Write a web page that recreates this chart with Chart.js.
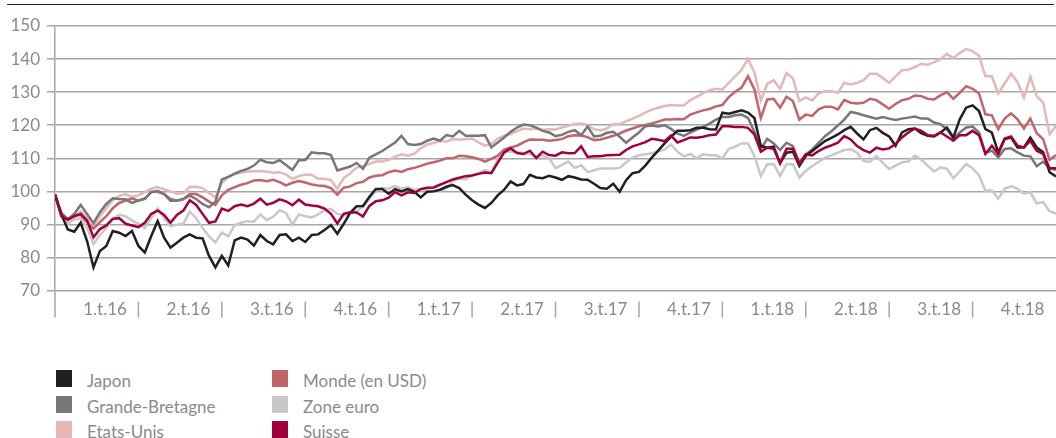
<!DOCTYPE html>
<html>
<head>
<meta charset="utf-8">
<script src="https://cdn.jsdelivr.net/npm/chart.js@4.4.1/dist/chart.umd.min.js"></script>
<style>
  html, body { margin: 0; padding: 0; background: #fff; }
  body { width: 1056px; height: 438px; position: relative; overflow: hidden; font-family: Lato, sans-serif; }
  #rule { position: absolute; left: 7px; top: 4px; width: 1047px; height: 0; border-top: 1px solid #222; }
  #wrap { position: absolute; left: 0; top: 0; width: 1056px; height: 330px; }
  .item { position: absolute; height: 17px; font-size: 17px; line-height: 17px; color: #8a8a8d; white-space: nowrap; }
  .swatch { position: absolute; left: 0; top: 0; width: 16px; height: 17px; }
  .name { position: absolute; left: 31px; top: 2px; }
</style>
</head>
<body>
<div id="rule"></div>
<div id="wrap"><canvas id="chart" width="1056" height="330"></canvas></div>
<div id="legend"></div>
<script>
// Weekly index values, start = 100
const quarterLabels = ['1.t.16', '2.t.16', '3.t.16', '4.t.16', '1.t.17', '2.t.17', '3.t.17', '4.t.17', '1.t.18', '2.t.18', '3.t.18', '4.t.18'];

const japon = [
  99, 93, 88.5, 87.8, 90.5, 85, 77, 82, 83.5, 88, 87.5, 86.5, 88,
  83.5, 81.5, 86.5, 91, 86, 83, 84.5, 86, 87, 86, 85.8, 80.5, 77,
  80.5, 77.6, 85.2, 86, 85.4, 83.6, 86.8, 85, 84, 86.8, 87, 85, 86,
  84.7, 86.8, 87, 88.3, 89.8, 87.2, 90.2, 93.5, 95.5, 95.6, 98.4, 100.7, 100.7,
  99.3, 100.7, 100, 100.7, 99.9, 98.2, 99.9, 100, 100.5, 101.4, 101.9, 101, 99,
  97.3, 96, 95, 96.5, 98.8, 100.5, 103, 101.8, 102.2, 105, 104.2, 104, 104.7,
  104.2, 103.5, 104.6, 104.2, 103.6, 103.5, 102.3, 101, 100.8, 102.3, 99.9, 103.4, 105.5,
  105.9, 107.8, 110.2, 112.3, 114.5, 116.5, 118.3, 118.3, 118.5, 119.2, 119.2, 118.8, 118.7,
  123.8, 123.5, 124, 124.5, 123.8, 122.2, 113.7, 113.2, 113.5, 108.5, 111.7, 112, 107.7,
  110.7, 112.2, 113.7, 115.2, 116.2, 117.2, 118.5, 119.5, 117.5, 115.7, 118.5, 119.2, 117.7,
  116.6, 113.8, 117.8, 118.8, 119, 117.6, 116.8, 116.6, 117.8, 119.3, 116.3, 121.8, 125.3,
  126, 124.3, 118.8, 117.8, 111.8, 115.8, 116.3, 113.3, 113.3, 116.3, 113.3, 111.8, 105.8,
  104.5
];

const grandeBretagne = [
  99, 93.5, 91.6, 93.2, 95.9, 93.2, 90.4, 93.7, 96.2, 97.9, 97.7, 97.6, 96.5,
  97.2, 97.9, 99.7, 100.2, 99.2, 97.2, 97.2, 97.7, 98.7, 97.7, 96.2, 95.2, 96.9,
  103.6, 104.4, 105.4, 106.2, 106.8, 107.8, 109.6, 108.8, 108.6, 109.4, 108, 106.5, 109.4,
  109.5, 111.8, 111.5, 111.5, 111, 106.3, 106.9, 107.5, 108.6, 106.8, 110.2, 111.2, 112.2,
  113.5, 114.8, 116.8, 114.3, 114, 114.3, 115.3, 116, 115.3, 117, 116.6, 118.3, 116.8,
  116.8, 116.8, 117, 113.3, 114.8, 116.3, 118, 119.3, 120.2, 120, 119.3, 118.3, 117.8,
  116.7, 117.1, 118, 118.5, 117, 119.6, 116.6, 116.8, 117.7, 118, 116.5, 114.7, 116.3,
  117.8, 119.7, 119.9, 119.6, 120, 118.9, 117.5, 116.8, 117.8, 118.7, 119.5, 120.5, 121.7,
  122.5, 122.5, 123, 123.2, 122.2, 118, 112.8, 115.9, 114.5, 112.5, 114.7, 113.7, 108.7,
  111.2, 112.7, 114.7, 116.7, 118.2, 119.9, 121.7, 124, 123.6, 123, 122.5, 122, 122.5,
  122, 121.6, 122, 122.3, 122.6, 122, 122, 120.8, 120.3, 118.8, 116, 117.8, 119.3,
  119.6, 117.8, 111.6, 112.3, 110.3, 112.8, 113, 111.8, 110.8, 110.6, 107.6, 109, 107,
  106.5
];

const etatsUnis = [
  99, 93, 91, 92.5, 94, 92.5, 89.8, 92.5, 95, 97.3, 98.6, 99.2, 98.3,
  98.8, 99.8, 100.8, 101.3, 100.6, 100, 99.3, 99.4, 101.3, 101.4, 101, 99.5, 98.2,
  102.5, 104.3, 105.2, 105.7, 106, 106.1, 106.1, 106, 105.6, 105.8, 105.1, 103.8, 104.6,
  105.1, 105, 103.8, 103.8, 103.4, 100.8, 104, 105.5, 107.2, 107.6, 108.3, 109, 109,
  109.5, 110.5, 111.2, 110.8, 111.4, 113, 114.2, 114.6, 115.3, 115, 115.8, 115.6, 115.8,
  116, 114.8, 113.8, 114.3, 116, 116.8, 117.3, 118.2, 119, 118.8, 119, 118.6, 118.8,
  118.7, 119.3, 119.8, 120.4, 120.5, 120, 118.8, 118.4, 119, 120.3, 120.3, 121.2, 122,
  122.8, 123.8, 124.7, 125.3, 125.8, 126.1, 126, 126, 127.6, 128.6, 129.7, 130.6, 131,
  130.8, 132.8, 134.8, 136.8, 140, 136, 127.5, 132.5, 133.6, 131, 135.8, 134.2, 127.3,
  128.4, 127.5, 129.6, 130.3, 130.3, 129.8, 132.8, 132.3, 132.8, 133.6, 135.6, 135.6, 134.3,
  132.8, 134.8, 136.6, 136.8, 137.6, 138.6, 138.3, 139, 140, 141.5, 140.3, 141.8, 143,
  142.4, 141, 134.8, 134.8, 129.6, 132.6, 135.6, 133, 128.3, 134.6, 128.8, 126.8, 117.3,
  119.8
];

const monde = [
  99, 92.7, 91.5, 92.5, 92.9, 90.7, 88.7, 90.7, 92.5, 94.9, 96.5, 97.2, 97.9,
  97.2, 97.7, 99.9, 99.9, 99.2, 97.7, 97.2, 97.7, 99.2, 99.2, 98.2, 96.9, 95.9,
  98.8, 100.5, 101.3, 102, 102.5, 103.3, 103.4, 103.1, 103.5, 102.8, 101.8, 102.6, 103.1,
  102.7, 102.1, 101.8, 101.6, 101, 99, 101.1, 101.5, 102.5, 102.9, 104.2, 104.7, 104.9,
  105.8, 106.3, 105.9, 106.7, 107.1, 107.7, 108.4, 108.8, 109.3, 110, 110, 110.8, 110.6,
  110.3, 109.8, 109, 109.8, 110.8, 112.6, 113.3, 113.8, 114.8, 115.7, 115.6, 115.6, 115.3,
  115.5, 115.8, 116.7, 117, 116.9, 116.4, 115.5, 115.7, 116.2, 116.8, 117.5, 118.4, 119,
  119.7, 120.1, 120.5, 121.1, 121.7, 121.7, 121.9, 121.8, 123.2, 123.9, 124.5, 124.9, 125.7,
  126.1, 128.5, 130.1, 131.4, 134.8, 130.8, 122.2, 127.8, 128, 125.3, 128.6, 127.3, 121.7,
  123.2, 122.8, 124.8, 125.6, 125.6, 124.8, 127.6, 126.8, 126.6, 126.8, 128, 127.6, 126.3,
  125, 126.4, 127.6, 128, 129, 128.8, 128, 127.8, 129, 130, 128, 129.8, 131.8,
  131, 129.6, 123.3, 123, 118.8, 122, 123.6, 121.8, 119, 122, 117.6, 115.8, 109.5,
  111
];

const zoneEuro = [
  99, 92.5, 90.2, 91.5, 91.9, 88.9, 84.1, 86.8, 88.9, 91.7, 92.9, 92.5, 91.2,
  90.2, 88.9, 91.9, 94.9, 91.9, 89.5, 89.9, 90.2, 93.9, 91.9, 88.9, 86.4, 84.6,
  87.5, 86.4, 89.8, 90.5, 91, 90.8, 93, 91.3, 92.3, 94.3, 93.5, 90, 93,
  92.5, 92.1, 93, 94.3, 94.7, 93.2, 92.8, 93.3, 94, 95.3, 97.7, 100.3, 101,
  100.8, 101.6, 100.8, 101.2, 100.5, 100.7, 100.3, 100.2, 100.2, 100.9, 103.2, 103.9, 103.7,
  104.9, 105.5, 106.4, 105.7, 109.7, 112.2, 112, 111.8, 111.6, 111.3, 110.3, 110.8, 110,
  107, 108, 109, 107.1, 107.9, 105.8, 106.4, 106.9, 106.9, 106.9, 107.1, 108.7, 110.2,
  110.9, 111.2, 111.5, 112.1, 112.6, 114.2, 112, 110.6, 111.3, 110, 111.2, 110.9, 110.9,
  110, 112.9, 113.5, 114.5, 114.5, 110.7, 104.7, 108.2, 108.3, 104.7, 108.2, 108.2, 104.2,
  106.2, 107.7, 108.9, 110.2, 110.9, 111.7, 112.5, 112.7, 111.7, 109.2, 108.9, 110.7, 108.7,
  106.8, 107.8, 108.8, 109, 110.8, 109.6, 107.8, 106, 107.3, 106.8, 104, 106, 108.3,
  107, 104.8, 100.3, 100.3, 97.8, 100.8, 101.6, 100.8, 99.3, 99.8, 96.3, 96.8, 94,
  93.3
];

const suisse = [
  99, 92.5, 91.5, 92.5, 93.2, 91.2, 86.1, 88.6, 89.7, 91.7, 91.9, 90.2, 89.7,
  89.2, 90.5, 93.2, 94.2, 92.9, 90.5, 92.9, 94.2, 97.3, 95.9, 93.2, 90.5, 90.9,
  94.8, 94.1, 95.5, 96, 95.5, 96.3, 97.8, 96, 96.5, 97.6, 97, 95.8, 97.5,
  96, 95.7, 95.5, 94.8, 93.2, 90.3, 93.2, 93.7, 93.6, 92.4, 95.6, 97, 97.3,
  98.1, 99.8, 98.8, 99.7, 99.5, 100.7, 101.1, 101.2, 102, 102.8, 103.6, 104.1, 104.6,
  104.8, 105.3, 105.7, 105.5, 108.7, 111.8, 113, 111.6, 111.3, 112.3, 110.1, 112, 111,
  110.8, 111.8, 111.5, 111.6, 113.6, 110.4, 110.6, 110.6, 110.9, 111, 111.1, 112.5, 113.6,
  114.2, 114.9, 115.9, 115.6, 115.2, 116.9, 114.8, 115.5, 116.3, 116.2, 116.5, 117, 117.2,
  119.7, 119.7, 119.5, 119.5, 119.2, 117.2, 112, 113.2, 112.9, 108.5, 112.9, 112.9, 108.2,
  111.2, 110.9, 112.2, 113.2, 113.9, 114.7, 116.7, 115.7, 113.7, 112.5, 111.7, 113.2, 112.7,
  113, 114.3, 116.3, 117.8, 119, 118.3, 117, 116.8, 117.8, 116.6, 115.3, 117, 117,
  118.3, 117, 111.3, 113.8, 111.3, 116, 116.6, 113.8, 113.3, 115.3, 112.3, 111.3, 107,
  107
];

const seriesNames = ['Japon', 'Grande-Bretagne', 'Etats-Unis', 'Monde (en USD)', 'Zone euro', 'Suisse'];
const seriesValues = [japon, grandeBretagne, etatsUnis, monde, zoneEuro, suisse];
const seriesColors = ['#231f20', '#77777a', '#e6b7b7', '#c1646b', '#c8c8ca', '#a1003a'];
const drawOrder = [1, 2, 4, 3, 5, 0]; // lower = drawn on top

const WEEKS_PER_Q = 13;
const gridColor = '#a6a6a8';
const textColor = '#8a8a8d';
const font = { family: 'Lato', size: 17 };

// vertical separators between quarters, below the plot
const quarterLines = {
  id: 'quarterLines',
  afterDraw(chart) {
    const { ctx, chartArea } = chart;
    const x = chart.scales.x;
    ctx.save();
    ctx.strokeStyle = gridColor;
    ctx.lineWidth = 1.5;
    quarterLabels.forEach((_, i) => {
      const px = x.getPixelForValue(i * WEEKS_PER_Q);
      ctx.beginPath();
      ctx.moveTo(px, i === 0 ? chartArea.bottom : chartArea.bottom + 11);
      ctx.lineTo(px, chartArea.bottom + 27);
      ctx.stroke();
    });
    ctx.restore();
  }
};

new Chart(document.getElementById('chart'), {
  type: 'line',
  data: {
    datasets: seriesNames.map((name, s) => ({
      label: name,
      data: seriesValues[s].map((v, i) => ({ x: i, y: v })),
      borderColor: seriesColors[s],
      backgroundColor: seriesColors[s],
      borderWidth: 2.5,
      pointRadius: 0,
      tension: 0,
      order: drawOrder[s]
    }))
  },
  options: {
    responsive: false,
    animation: false,
    layout: { padding: { top: 26, left: 10, right: 0, bottom: 1 } },
    plugins: {
      legend: { display: false },
      tooltip: { enabled: false }
    },
    scales: {
      x: {
        type: 'linear',
        min: 0,
        max: japon.length - 1,
        grid: { display: false, drawTicks: false },
        border: { display: false },
        afterBuildTicks: axis => {
          axis.ticks = quarterLabels.map((_, i) => ({ value: i * WEEKS_PER_Q + 7.8 }));
        },
        ticks: {
          autoSkip: false,
          maxRotation: 0,
          padding: 9,
          color: textColor,
          font: font,
          callback: (value, index) => quarterLabels[index]
        }
      },
      y: {
        min: 70,
        max: 150,
        afterFit: axis => { axis.width = 45; },
        grid: { color: gridColor, lineWidth: 1.5, tickLength: 8 },
        border: { display: true, color: gridColor, width: 1.5 },
        ticks: {
          stepSize: 10,
          padding: 7,
          color: textColor,
          font: font
        }
      }
    }
  },
  plugins: [quarterLines]
});

// legend, two columns
const legend = document.getElementById('legend');
seriesNames.forEach((name, s) => {
  const col = Math.floor(s / 3), row = s % 3;
  const item = document.createElement('div');
  item.className = 'item';
  item.style.left = (56 + col * 216) + 'px';
  item.style.top = (370 + row * 25.5) + 'px';
  item.innerHTML = '<div class="swatch" style="background:' + seriesColors[s] + '"></div><div class="name"></div>';
  item.querySelector('.name').textContent = name;
  legend.appendChild(item);
});
</script>
</body>
</html>
